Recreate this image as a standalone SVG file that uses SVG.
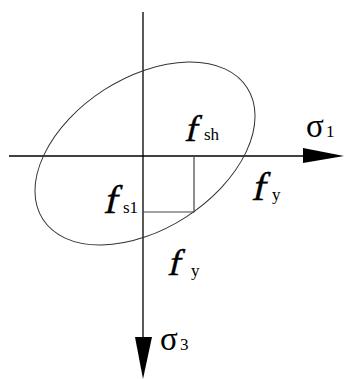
<svg xmlns="http://www.w3.org/2000/svg" width="344" height="379" viewBox="0 0 344 379">
<style>
.ax{stroke:#000;stroke-width:1.3;fill:none}
.el{stroke:#333;stroke-width:1;fill:none}
.rc{stroke:#444;stroke-width:1.2;fill:none}
text{fill:#000;font-family:"Liberation Serif","Times New Roman",serif}
.f{font-size:37px;stroke:#000;stroke-width:0.4}
.sub{font-size:17px}
.sg{font-size:33px}
</style>
<rect width="344" height="379" fill="#fff"/>
<g id="connectors">
<line class="ax" x1="9" y1="156" x2="305" y2="156"/>
<polygon points="303,148 344,156 303,163" fill="#000"/>
<line class="ax" x1="143" y1="12" x2="143" y2="339"/>
<polygon points="135,337 143,379 152,337" fill="#000"/>
</g>
<g id="ellipse">
<ellipse class="el" cx="145" cy="153.5" rx="121.5" ry="75.6" transform="rotate(-32.8 145 153.5)"/>
</g>
<g id="rect">
<polyline class="rc" points="194,156 194,212 143,212"/>
</g>
<g id="label-fsh"><text class="f" transform="translate(184,141) skewX(-13)">f</text><text x="204" y="140" class="sub">sh</text></g>
<g id="label-sigma1"><text x="306" y="137" class="sg">σ</text><text x="326" y="137" class="sub">1</text></g>
<g id="label-fy1"><text class="f" transform="translate(251,200) skewX(-13)" style="font-size:40px">f</text><text x="272" y="200" class="sub">y</text></g>
<g id="label-fs1"><text class="f" transform="translate(103,213) skewX(-13)" style="font-size:40px">f</text><text x="123" y="213" class="sub">s1</text></g>
<g id="label-fy2"><text class="f" transform="translate(167,275) skewX(-13)">f</text><text x="191" y="276" class="sub">y</text></g>
<g id="label-sigma3"><text x="160" y="350" class="sg">σ</text><text x="180" y="350" class="sub">3</text></g>
</svg>
